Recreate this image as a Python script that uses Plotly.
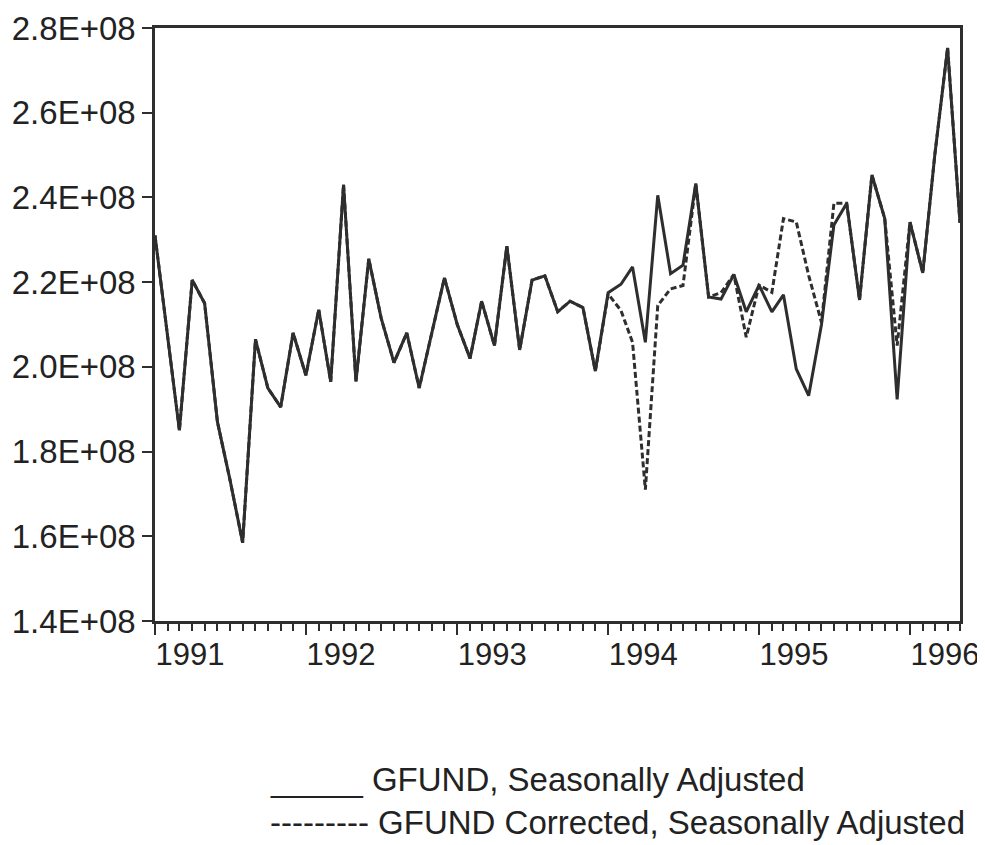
import plotly.graph_objects as go
import pandas as pd

# Monthly observations, 1991:01 - 1996:05
months = pd.date_range("1991-01-01", "1996-05-01", freq="MS")

# GFUND, seasonally adjusted (units of 1E+08)
gfund_sa = [
    2.31, 2.07, 1.85, 2.205, 2.15, 1.87, 1.735, 1.585, 2.065, 1.95, 1.905, 2.08,
    1.98, 2.135, 1.965, 2.43, 1.965, 2.255, 2.115, 2.01, 2.08, 1.95, 2.08, 2.21,
    2.10, 2.02, 2.155, 2.05, 2.285, 2.04, 2.205, 2.215, 2.13, 2.155, 2.14, 1.99,
    2.175, 2.195, 2.236, 2.058, 2.405, 2.22, 2.24, 2.433, 2.165, 2.16, 2.218, 2.13,
    2.193, 2.13, 2.17, 1.995, 1.932, 2.10, 2.335, 2.386, 2.158, 2.453, 2.35, 1.923,
    2.342, 2.222, 2.50, 2.753, 2.34,
]

# GFUND corrected, seasonally adjusted (units of 1E+08)
gfund_corr_sa = [
    2.31, 2.07, 1.85, 2.205, 2.15, 1.87, 1.735, 1.585, 2.065, 1.95, 1.905, 2.08,
    1.98, 2.135, 1.965, 2.43, 1.965, 2.255, 2.115, 2.01, 2.08, 1.95, 2.08, 2.21,
    2.10, 2.02, 2.155, 2.05, 2.285, 2.04, 2.205, 2.215, 2.13, 2.155, 2.14, 1.99,
    2.172, 2.133, 2.058, 1.71, 2.145, 2.184, 2.192, 2.433, 2.165, 2.175, 2.218, 2.07,
    2.193, 2.176, 2.35, 2.342, 2.216, 2.105, 2.386, 2.386, 2.158, 2.453, 2.35, 2.05,
    2.342, 2.222, 2.50, 2.753, 2.34,
]

y_tickvals = [1.4e8, 1.6e8, 1.8e8, 2.0e8, 2.2e8, 2.4e8, 2.6e8, 2.8e8]
y_ticktext = ["1.4E+08", "1.6E+08", "1.8E+08", "2.0E+08", "2.2E+08", "2.4E+08", "2.6E+08", "2.8E+08"]
year_labels = ["1991", "1992", "1993", "1994", "1995", "1996"]

legend_solid = "_____ GFUND, Seasonally Adjusted"
legend_dash = "--------- GFUND Corrected, Seasonally Adjusted"

ink = "#2e2e2e"
text_col = "#222222"
font_family = "Liberation Sans, Arial, Helvetica, sans-serif"

fig = go.Figure()
fig.add_trace(go.Scatter(
    x=months, y=[v * 1e8 for v in gfund_corr_sa], mode="lines",
    name="GFUND Corrected, Seasonally Adjusted",
    line=dict(color=ink, width=3, dash="6px,3px"),
))
fig.add_trace(go.Scatter(
    x=months, y=[v * 1e8 for v in gfund_sa], mode="lines",
    name="GFUND, Seasonally Adjusted",
    line=dict(color=ink, width=3),
))

year_starts = [f"{y}-01-01" for y in year_labels]

fig.update_layout(
    width=985, height=845,
    margin=dict(l=147, r=33, t=20, b=232),
    paper_bgcolor="white", plot_bgcolor="white",
    showlegend=False,
    font=dict(family=font_family, color=text_col),
    xaxis=dict(
        range=[months[0], months[-1]],
        automargin=False,
        showgrid=False, zeroline=False,
        showline=True, linecolor=ink, linewidth=2.5, mirror=True,
        tickmode="array", tickvals=year_starts, ticktext=year_labels,
        ticks="outside", ticklen=11, tickwidth=2, tickcolor=ink,
        ticklabelshift=35, ticklabelstandoff=-7,
        tickfont=dict(size=31, family=font_family, color=text_col),
        minor=dict(tickmode="array", tickvals=list(months), ticks="outside",
                   ticklen=7, tickwidth=1.8, tickcolor=ink, showgrid=False),
    ),
    yaxis=dict(
        range=[1.4e8, 2.8e8],
        automargin=False,
        showgrid=False, zeroline=False,
        showline=True, linecolor=ink, linewidth=2.5, mirror=True,
        tickmode="array", tickvals=y_tickvals, ticktext=y_ticktext,
        ticks="outside", ticklen=10, tickwidth=2, tickcolor=ink,
        tickfont=dict(size=33, family=font_family, color=text_col),
    ),
    annotations=[
        dict(text=legend_solid, xref="paper", yref="paper", x=0.14, y=-0.268,
             xanchor="left", yanchor="middle", showarrow=False,
             font=dict(size=33, family=font_family, color=text_col)),
        dict(text=legend_dash, xref="paper", yref="paper", x=0.14, y=-0.339,
             xanchor="left", yanchor="middle", showarrow=False,
             font=dict(size=33, family=font_family, color=text_col)),
    ],
)

fig.write_html("out.html")
